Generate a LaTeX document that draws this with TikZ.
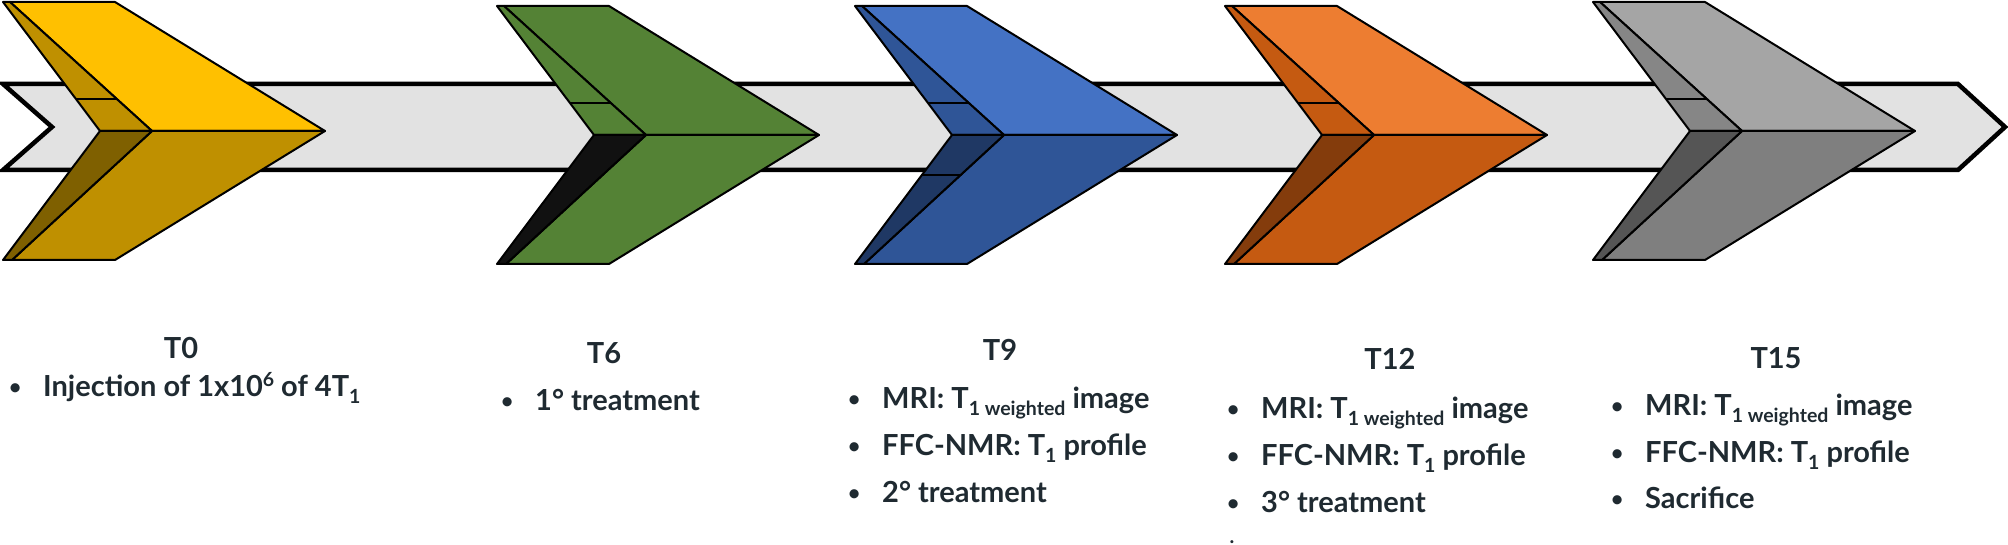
\documentclass[tikz,border=0pt]{standalone}
\usepackage{fontspec}
\setmainfont{Lato}
\usetikzlibrary{calc}
\definecolor{ink}{HTML}{1F2A31}
\definecolor{bandfill}{HTML}{E2E2E2}
\definecolor{yA}{HTML}{FFC000}\definecolor{yB}{HTML}{BF9000}\definecolor{yD}{HTML}{7F6000}
\definecolor{gA}{HTML}{548235}\definecolor{gD}{HTML}{111111}
\definecolor{bA}{HTML}{4472C4}\definecolor{bB}{HTML}{2F5597}\definecolor{bD}{HTML}{1F3864}
\definecolor{oA}{HTML}{ED7D31}\definecolor{oB}{HTML}{C55A11}\definecolor{oD}{HTML}{843C0C}
\definecolor{kA}{HTML}{A5A5A5}\definecolor{kB}{HTML}{868686}\definecolor{kC}{HTML}{7F7F7F}\definecolor{kD}{HTML}{555555}
\newcommand\bul{\llap{\raisebox{2pt}{\fontsize{21}{21}\selectfont •}\hspace{22pt}}}
\newcommand\lo[1]{\raisebox{-7pt}{\fontsize{19.5}{19.5}\selectfont #1}}
\newcommand\hi[1]{\raisebox{10pt}{\fontsize{19.5}{19.5}\selectfont #1}}
\newcommand\chevron[6]{%
\begin{scope}[shift={(#1,#2)}]
 \coordinate (OTL) at (0,0); \coordinate (ITL) at (7,0); \coordinate (TR) at (112,0);
 \coordinate (TIP) at (322,129); \coordinate (BR) at (112,258); \coordinate (IBL) at (9,258);
 \coordinate (OBL) at (0,258); \coordinate (NO) at (97,129); \coordinate (RI) at (149,129);
 \filldraw[face, fill=#3] (ITL) -- (TR) -- (TIP) -- (RI) -- cycle;
 \filldraw[face, fill=#4] (OTL) -- (ITL) -- (RI) -- (NO) -- cycle;
 \filldraw[face, fill=#5] (RI) -- (TIP) -- (BR) -- (IBL) -- cycle;
 \filldraw[face, fill=#6] (NO) -- (RI) -- (IBL) -- (OBL) -- cycle;
 \draw[face] ($(OTL)!0.75!(NO)$) -- ($(ITL)!0.75!(RI)$);
\end{scope}}
\begin{document}
\begin{tikzpicture}[x=1pt,y=-1pt,
  face/.style={draw=black, line width=2pt, line join=round},
  band/.style={draw=black, fill=bandfill, line width=4.5pt, line join=miter},
  txt/.style={font=\fontsize{29}{29}\selectfont\bfseries, text=ink, inner sep=0pt, anchor=base west},
  lbl/.style={font=\fontsize{29}{29}\selectfont\bfseries, text=ink, inner sep=0pt, anchor=base}]
\useasboundingbox (0,0) rectangle (2008,545);
\fill[white] (0,0) rectangle (2008,545);
% timeline band
\draw[band] (3,84) -- (1958,84) -- (2005,127) -- (1958,170) -- (3,170) -- (52,127) -- cycle;
% chevrons
\chevron{3}{2}{yA}{yB}{yB}{yD}
\chevron{497}{6}{gA}{gA}{gA}{gD}
\chevron{855}{6}{bA}{bB}{bB}{bD}
\begin{scope}[shift={(855,6)}]
 \draw[face] ($(97,129)!0.31!(0,258)$) -- ($(149,129)!0.31!(9,258)$);
\end{scope}
\chevron{1225}{6}{oA}{oB}{oB}{oD}
\chevron{1593}{2}{kA}{kB}{kC}{kD}
% texts
\node[lbl] (t0) at (181,358) {T0};
\node[txt] (t0a) at (43,396) {\bul Injection of 1x10\hi{6} of 4T\lo{1}};
\node[lbl] (t6) at (604,363) {T6};
\node[txt] (t6a) at (535,410) {\bul 1° treatment};
\node[lbl] (t9) at (1000,360) {T9};
\node[txt] (t9a) at (882,408) {\bul MRI: T\lo{1 weighted} image};
\node[txt] (t9b) at (882,455) {\bul FFC-NMR: T\lo{1} profile};
\node[txt] (t9c) at (882,502) {\bul 2° treatment};
\node[lbl] (t12) at (1390,370) {T12};
\node[txt] (t12a) at (1261,418) {\bul MRI: T\lo{1 weighted} image};
\node[txt] (t12b) at (1261,465) {\bul FFC-NMR: T\lo{1} profile};
\node[txt] (t12c) at (1261,512) {\bul 3° treatment};
\node[txt, anchor=base, font=\fontsize{20}{20}\selectfont\bfseries] (dot) at (1232,543) {.};
\node[lbl] (t15) at (1776,368) {T15};
\node[txt] (t15a) at (1645,415) {\bul MRI: T\lo{1 weighted} image};
\node[txt] (t15b) at (1645,462) {\bul FFC-NMR: T\lo{1} profile};
\node[txt] (t15c) at (1645,508) {\bul Sacrifice};
\end{tikzpicture}
\end{document}
